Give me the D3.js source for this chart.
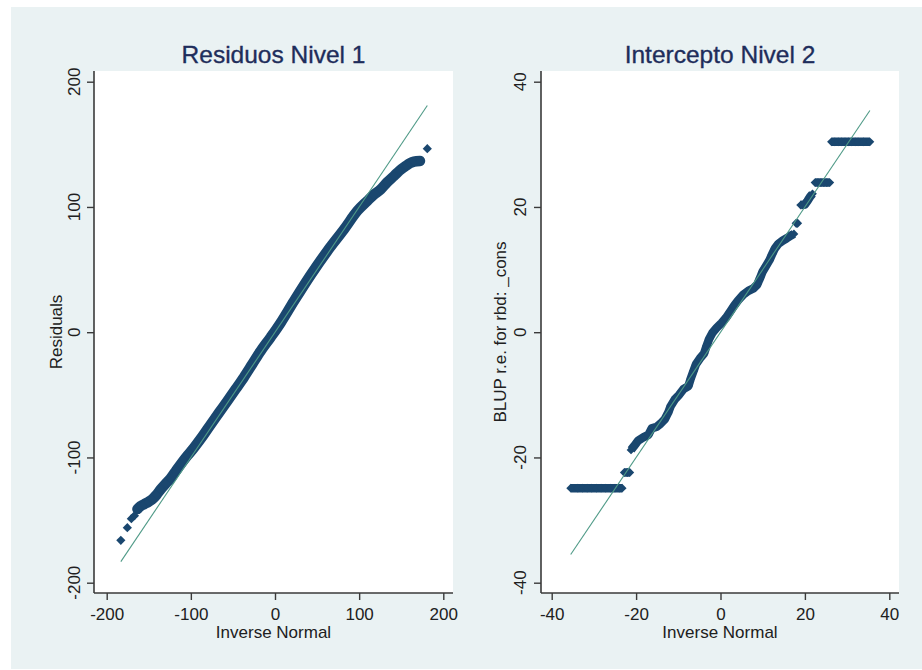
<!DOCTYPE html>
<html>
<head>
<meta charset="utf-8">
<script src="https://cdn.jsdelivr.net/npm/d3@7"></script>
<style>
  body { margin: 0; background: #ffffff; }
  svg { display: block; }
  text { font-family: "Liberation Sans", Arial, Helvetica, sans-serif; }
</style>
</head>
<body>
<svg id="chart" width="922" height="670"></svg>
<script>
// ---- Level-1 residuals: quantiles vs. inverse-normal quantiles ----
// dense central cloud of points, traced in order
const resX = [-163.5, -160.0, -155.7, -150.5, -145.8, -140.8, -135.9, -130.0, -124.0, -118.0,
              -112.1, -104.0, -96.3, -86.0, -76.4, -66.5, -56.6, -46.7, -36.8, -27.0,
              -17.0, -5.1, 6.7, 22.6, 42.4, 62.2, 82.0, 97.8, 109.7, 117.0,
              125.6, 133.0, 141.4, 148.0, 155.3, 160.5, 165.2, 172.3];
const resY = [-141.2, -139.0, -137.4, -135.5, -133.4, -129.8, -125.5, -121.0, -116.7, -111.0,
              -105.5, -98.5, -92.2, -83.0, -73.6, -64.2, -54.9, -45.4, -35.8, -25.5,
              -15.0, -4.0, 7.5, 24.9, 45.7, 64.8, 82.1, 96.8, 104.8, 109.5,
              114.1, 119.5, 124.7, 129.0, 132.7, 135.0, 136.2, 136.7];
// sparse extreme points in the tails
const resOutX = [-183.2, -175.5, -170.7, -167.0, 181.0];
const resOutY = [-166.2, -156.1, -148.9, -146.5, 146.5];

// ---- Level-2 intercept BLUPs: quantiles vs. inverse-normal quantiles ----
const blupX = [-35.5, -33.8, -32.7, -31.6, -30.5, -29.4, -28.3, -27.2, -26.1, -25.0, -24.0, -23.3,
               -22.8, -22.1, -21.5,
               -21.2, -20.5, -19.5, -18.3, -17.1, -16.3, -15.1, -14.2, -13.2, -12.4,
               -11.8, -10.8, -9.8, -8.8, -7.6, -7.1, -6.4, -5.8, -4.9, -3.9,
               -3.3, -2.7, -1.9, -0.9, 0.3, 1.3, 2.3, 3.2, 4.2, 5.4,
               6.6, 7.8, 8.7, 9.4, 10.0, 10.8, 11.6, 12.2, 12.9, 13.7,
               14.7, 15.7, 16.6, 17.4,
               17.9, 18.3,
               19.0, 20.0, 20.6, 21.2, 21.8,
               22.4, 23.1, 23.8, 24.5, 25.2, 25.9,
               26.3, 27.1, 27.9, 28.7, 29.5, 30.3, 31.1, 31.9, 32.6, 33.9, 35.4];
const blupY = [-24.9, -24.9, -24.9, -24.9, -24.9, -24.9, -24.9, -24.9, -24.9, -24.9, -24.9, -24.9,
               -22.4, -22.4, -22.4,
               -18.8, -18.2, -17.3, -16.8, -16.4, -15.35, -15.1, -14.6, -13.9, -12.85,
               -11.8, -10.7, -10.0, -9.1, -8.6, -7.5, -6.2, -5.1, -4.2, -3.4,
               -2.2, -1.1, -0.1, 0.7, 1.5, 2.3, 3.3, 4.2, 5.1, 6.0,
               6.6, 7.0, 7.6, 8.7, 9.7, 10.6, 11.5, 12.4, 13.4, 14.1,
               14.6, 15.0, 15.4, 15.7,
               17.4, 17.4,
               20.3, 20.4, 20.95, 21.6, 22.1,
               23.9, 23.9, 23.9, 23.9, 23.9, 23.9,
               30.4, 30.4, 30.4, 30.4, 30.4, 30.4, 30.4, 30.4, 30.4, 30.4, 30.4];

// ---- axis ticks and texts ----
const ticksLeft = [-200, -100, 0, 100, 200];
const ticksRight = [-40, -20, 0, 20, 40];
const panelTitles = ["Residuos Nivel 1", "Intercepto Nivel 2"];
const yTitles = ["Residuals", "BLUP r.e. for rbd: _cons"];
const xTitle = "Inverse Normal";

// ---- styling ----
const navy = "#1a476f";
const refColor = "#4f9a87";
const axisColor = "#3a3a3a";
const textColor = "#202020";
const titleColor = "#1e2d5b";

const svg = d3.select("#chart");

// graph region
svg.append("rect").attr("x", 11).attr("y", 7).attr("width", 911).attr("height", 662)
  .attr("fill", "#eaf2f3");

const panels = [
  { left: 94, right: 453, top: 71, bottom: 593, xRange: [106.7, 443.3], domain: [-200, 200],
    ticks: ticksLeft, title: panelTitles[0], yTitle: yTitles[0], tickLabelX: 79.5, yTitleX: 61.5 },
  { left: 541, right: 899, top: 71, bottom: 593, xRange: [551.7, 889.3], domain: [-40, 40],
    ticks: ticksRight, title: panelTitles[1], yTitle: yTitles[1], tickLabelX: 526, yTitleX: 505.5 }
];

function diamond(r) {
  return `M0,${-r}L${r},0L0,${r}L${-r},0Z`;
}
const fmt = d => String(d);

panels.forEach((p, i) => {
  const g = svg.append("g");
  const x = d3.scaleLinear().domain(p.domain).range(p.xRange);
  const y = d3.scaleLinear().domain(p.domain).range([582.7, 81.7]);
  p.x = x; p.y = y;

  // plot region
  g.append("rect").attr("x", p.left).attr("y", p.top)
    .attr("width", p.right - p.left).attr("height", p.bottom - p.top).attr("fill", "#ffffff");

  // title
  g.append("text").attr("x", (p.left + p.right) / 2).attr("y", 63)
    .attr("text-anchor", "middle").attr("font-size", 24.5).attr("fill", titleColor)
    .attr("stroke", titleColor).attr("stroke-width", 0.35)
    .text(p.title);

  // x axis
  const xa = g.append("g").attr("transform", `translate(0,${p.bottom})`)
    .call(d3.axisBottom(x).tickValues(p.ticks).tickSize(7).tickSizeOuter(0).tickPadding(8)
      .tickFormat(fmt));
  xa.select(".domain").remove();
  xa.selectAll(".tick line").attr("stroke", axisColor).attr("stroke-width", 1.4);
  xa.selectAll(".tick text").attr("font-size", 17).attr("fill", textColor)
    .attr("font-family", "Liberation Sans, Arial, sans-serif");

  // y axis ticks
  const ya = g.append("g").attr("transform", `translate(${p.left},0)`)
    .call(d3.axisLeft(y).tickValues(p.ticks).tickSize(7).tickSizeOuter(0).tickFormat(""));
  ya.select(".domain").remove();
  ya.selectAll(".tick line").attr("stroke", axisColor).attr("stroke-width", 1.4);

  // rotated y tick labels
  g.selectAll(".ylab").data(p.ticks).enter().append("text")
    .attr("transform", d => `translate(${p.tickLabelX},${y(d)}) rotate(-90)`)
    .attr("text-anchor", "middle").attr("font-size", 17).attr("fill", textColor)
    .text(fmt);

  // axis lines
  g.append("line").attr("x1", p.left).attr("x2", p.left).attr("y1", p.top).attr("y2", p.bottom)
    .attr("stroke", axisColor).attr("stroke-width", 1.6);
  g.append("line").attr("x1", p.left).attr("x2", p.right).attr("y1", p.bottom).attr("y2", p.bottom)
    .attr("stroke", axisColor).attr("stroke-width", 1.6);

  // axis titles
  g.append("text").attr("x", (p.left + p.right) / 2).attr("y", 637.5)
    .attr("text-anchor", "middle").attr("font-size", 17).attr("fill", textColor).text(xTitle);
  g.append("text")
    .attr("transform", `translate(${p.yTitleX},${(p.top + p.bottom) / 2}) rotate(-90)`)
    .attr("text-anchor", "middle").attr("font-size", 17).attr("fill", textColor).text(p.yTitle);
});

// ---- left panel marks ----
{
  const p = panels[0];
  const pts = resX.map((v, i) => [v, resY[i]]);
  const outs = resOutX.map((v, i) => [v, resOutY[i]]);
  const g = svg.append("g");
  // the overlapping markers of the dense cloud form a solid band
  g.append("path").datum(pts)
    .attr("d", d3.line().x(d => p.x(d[0])).y(d => p.y(d[1])).curve(d3.curveCatmullRom))
    .attr("fill", "none").attr("stroke", navy).attr("stroke-width", 10.5)
    .attr("stroke-linejoin", "round").attr("stroke-linecap", "round");
  g.selectAll(".m").data(pts.concat(outs)).enter().append("path")
    .attr("d", diamond(4.6))
    .attr("transform", d => `translate(${p.x(d[0])},${p.y(d[1])})`)
    .attr("fill", navy);
  // reference line y = x over the range of the inverse-normal quantiles
  const ext = d3.extent(resX.concat(resOutX));
  g.append("line")
    .attr("x1", p.x(ext[0])).attr("y1", p.y(ext[0]))
    .attr("x2", p.x(ext[1])).attr("y2", p.y(ext[1]))
    .attr("stroke", refColor).attr("stroke-width", 1.1);
}

// ---- right panel marks ----
{
  const p = panels[1];
  const pts = blupX.map((v, i) => [v, blupY[i]]);
  const g = svg.append("g");
  // neighbouring markers that touch are joined into one solid run
  const segs = [];
  let cur = [pts[0]];
  for (let i = 1; i < pts.length; i++) {
    const a = pts[i - 1], b = pts[i];
    const dist = Math.hypot(p.x(b[0]) - p.x(a[0]), p.y(b[1]) - p.y(a[1]));
    if (dist < 10) cur.push(b); else { segs.push(cur); cur = [b]; }
  }
  segs.push(cur);
  const line = d3.line().x(d => p.x(d[0])).y(d => p.y(d[1]));
  g.selectAll(".seg").data(segs.filter(s => s.length > 1)).enter().append("path")
    .attr("d", line).attr("fill", "none").attr("stroke", navy).attr("stroke-width", 8.5)
    .attr("stroke-linejoin", "round").attr("stroke-linecap", "butt");
  g.selectAll(".m").data(pts).enter().append("path")
    .attr("d", diamond(4.4))
    .attr("transform", d => `translate(${p.x(d[0])},${p.y(d[1])})`)
    .attr("fill", navy);
  const ext = d3.extent(blupX);
  g.append("line")
    .attr("x1", p.x(ext[0])).attr("y1", p.y(ext[0]))
    .attr("x2", p.x(ext[1])).attr("y2", p.y(ext[1]))
    .attr("stroke", refColor).attr("stroke-width", 1.1);
}
</script>
</body>
</html>
